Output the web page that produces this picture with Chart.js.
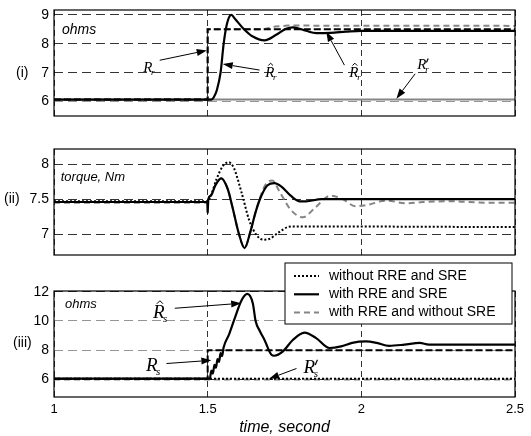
<!DOCTYPE html>
<html lang="en">
<head>
<meta charset="UTF-8">
<title>Rotor / stator resistance estimation</title>
<script src="https://cdn.jsdelivr.net/npm/chart.js"></script>
<style>
  body { margin: 0; background: #fff; }
  #wrap { position: relative; width: 531px; height: 436px; }
  canvas { position: absolute; left: 0; }
</style>
</head>
<body>
<div id="wrap">
  <canvas id="c1" width="531" height="128" style="top:0"></canvas>
  <canvas id="c2" width="531" height="130" style="top:128px"></canvas>
  <canvas id="c3" width="531" height="178" style="top:258px"></canvas>
</div>
<script>
  Chart.defaults.font.family = '"Liberation Sans", Arial, sans-serif';
  Chart.defaults.color = '#000';

  const xTicks = [1, 1.5, 2, 2.5];

  // (i) rotor resistance, ohms
  const rrTicks = [6, 7, 8, 9];
  const rrActT = [1, 1.5, 1.5, 2.5];
  const rrActV = [6.07, 6.07, 8.5, 8.5];
  const rrEstT = [1, 1.512, 1.52, 1.53, 1.542, 1.552, 1.563, 1.577, 1.59, 1.615, 1.647, 1.685, 1.723, 1.755, 1.777, 1.82, 1.853, 1.9, 1.95, 2.0, 2.5];
  const rrEstV = [6.07, 6.07, 6.15, 6.4, 7.0, 8.0, 8.7, 9.0, 8.85, 8.54, 8.25, 8.12, 8.31, 8.52, 8.57, 8.45, 8.37, 8.38, 8.42, 8.45, 8.45];
  const rrNoSreT = [1, 1.5, 1.5, 1.68, 1.72, 1.76, 2.5];
  const rrNoSreV = [6.07, 6.07, 8.5, 8.5, 8.6, 8.63, 8.62];
  const rrNomT = [1, 2.5];
  const rrNomV = [6.07, 6.07];

  // (ii) torque, Nm
  const tqTicks = [7, 7.5, 8];
  const tqNoneT = [1, 1.5, 1.51, 1.53, 1.55, 1.568, 1.585, 1.61, 1.635, 1.66, 1.68, 1.70, 1.73, 1.76, 1.78, 2.5];
  const tqNoneV = [7.47, 7.47, 7.55, 7.8, 7.98, 8.03, 7.95, 7.6, 7.2, 6.98, 6.92, 6.93, 7.02, 7.1, 7.11, 7.1];
  const tqBothT = [1, 1.499, 1.5, 1.502, 1.51, 1.525, 1.544, 1.565, 1.58, 1.6, 1.62, 1.64, 1.655, 1.67, 1.695, 1.717, 1.74, 1.77, 1.8, 1.82, 1.87, 2.5];
  const tqBothV = [7.46, 7.46, 7.3, 7.5, 7.55, 7.7, 7.8, 7.65, 7.4, 7.03, 6.8, 7.05, 7.3, 7.5, 7.7, 7.73, 7.68, 7.55, 7.47, 7.47, 7.5, 7.5];
  const tqNoSreT = [1, 1.499, 1.5, 1.502, 1.51, 1.525, 1.544, 1.565, 1.58, 1.6, 1.62, 1.64, 1.655, 1.67, 1.69, 1.71, 1.735, 1.77, 1.81, 1.85, 1.9, 1.94, 1.98, 2.02, 2.08, 2.15, 2.2, 2.3, 2.4, 2.5];
  const tqNoSreV = [7.45, 7.45, 7.3, 7.5, 7.55, 7.7, 7.8, 7.65, 7.4, 7.03, 6.8, 7.05, 7.3, 7.52, 7.72, 7.77, 7.6, 7.35, 7.24, 7.38, 7.55, 7.5, 7.4, 7.42, 7.48, 7.44, 7.46, 7.47, 7.45, 7.45];

  // (iii) stator resistance, ohms
  const rsTicks = [6, 8, 10, 12];
  const rsActT = [1, 1.5, 1.5, 2.5];
  const rsActV = [6.05, 6.05, 8, 8];
  const rsEstT = [1, 1.507, 1.512, 1.517, 1.522, 1.527, 1.532, 1.537, 1.542, 1.547, 1.552, 1.57, 1.59, 1.61, 1.629, 1.647, 1.656, 1.67, 1.685, 1.707, 1.717, 1.745, 1.777, 1.815, 1.853, 1.896, 1.934, 1.97, 2.015, 2.05, 2.09, 2.14, 2.19, 2.22, 2.5];
  const rsEstV = [6.05, 6.05, 6.6, 6.4, 7.0, 6.8, 7.4, 7.2, 7.8, 7.6, 8.2, 9.1, 10.3, 11.4, 11.85, 11.2, 10.0, 9.3, 8.7, 7.7, 7.62, 7.92, 8.7, 9.2, 8.83, 8.15, 8.26, 8.5, 8.6, 8.5, 8.3, 8.38, 8.5, 8.38, 8.38];
  const rsNomT = [1, 2.5];
  const rsNomV = [6.05, 6.05];
  const rsNoSreT = [1, 2.5];
  const rsNoSreV = [6.0, 6.0];

  const legendLabels = ['without RRE and SRE', 'with RRE and SRE', 'with RRE and without SRE'];

  // arrow call-outs: symbol anchor, arrow tail and head in data units
  const notes1 = [
    { sub: 'r', at: [1.29, 7.03], from: [1.344, 7.43], to: [1.497, 7.77] },
    { sub: 'r', hat: true, at: [1.687, 6.85], from: [1.669, 7.09], to: [1.549, 7.30] },
    { sub: 'r', hat: true, at: [1.961, 6.85], from: [1.945, 7.26], to: [1.886, 8.42] },
    { sub: 'r', prime: true, at: [2.182, 7.12], from: [2.175, 6.96], to: [2.114, 6.10] }
  ];
  const notes3 = [
    { sub: 's', hat: true, at: [1.322, 10.19], from: [1.393, 10.87], to: [1.609, 11.21] },
    { sub: 's', at: [1.299, 6.56], from: [1.366, 7.09], to: [1.512, 7.31] },
    { sub: 's', prime: true, at: [1.812, 6.41], from: [1.789, 6.75], to: [1.70, 6.05] }
  ];

  const look = {
    none: { borderColor: '#000', borderWidth: 2, borderDash: [2, 2] },
    both: { borderColor: '#000', borderWidth: 2.2 },
    noSre: { borderColor: '#858585', borderWidth: 2, borderDash: [6, 4] },
    actual: { borderColor: '#000', borderWidth: 2, borderDash: [7, 3] },
    nominal: { borderColor: '#858585', borderWidth: 2 }
  };

  function pts(t, v) {
    return t.map((tt, i) => ({ x: tt, y: v[i] }));
  }

  function line(t, v, kind, order, smooth) {
    return Object.assign({
      data: pts(t, v),
      pointRadius: 0,
      fill: false,
      order: order,
      cubicInterpolationMode: smooth ? 'monotone' : 'default',
      tension: smooth ? 0.4 : 0
    }, look[kind]);
  }

  function arrow(ctx, x0, y0, x1, y1) {
    const a = Math.atan2(y1 - y0, x1 - x0), L = 10, W = 3.5;
    ctx.beginPath();
    ctx.moveTo(x0, y0);
    ctx.lineTo(x1 - L * Math.cos(a), y1 - L * Math.sin(a));
    ctx.lineWidth = 1;
    ctx.stroke();
    ctx.beginPath();
    ctx.moveTo(x1, y1);
    ctx.lineTo(x1 - L * Math.cos(a) + W * Math.sin(a), y1 - L * Math.sin(a) - W * Math.cos(a));
    ctx.lineTo(x1 - L * Math.cos(a) - W * Math.sin(a), y1 - L * Math.sin(a) + W * Math.cos(a));
    ctx.closePath();
    ctx.fill();
  }

  function symbol(ctx, n, x, y, size) {
    ctx.font = 'italic ' + size + 'px "Liberation Serif"';
    ctx.textAlign = 'left';
    ctx.textBaseline = 'alphabetic';
    ctx.fillText('R', x, y);
    const w = ctx.measureText('R').width;
    ctx.lineWidth = 1;
    if (n.hat) {
      const cx = x + w * 0.6, top = y - size * 0.92;
      ctx.beginPath();
      ctx.moveTo(cx - size * 0.16, top + size * 0.16);
      ctx.lineTo(cx, top);
      ctx.lineTo(cx + size * 0.16, top + size * 0.16);
      ctx.stroke();
    }
    if (n.prime) {
      ctx.beginPath();
      ctx.moveTo(x + w + size * 0.12, y - size * 0.72);
      ctx.lineTo(x + w, y - size * 0.45);
      ctx.lineWidth = 1.2;
      ctx.stroke();
    }
    ctx.font = 'italic ' + Math.round(size * 0.6) + 'px "Liberation Serif"';
    ctx.fillText(n.sub, x + w - size * 0.08, y + size * 0.2);
  }

  function extras(cfg) {
    return {
      id: 'extras',
      afterDraw(chart) {
        const { ctx, chartArea: a, scales: { x, y } } = chart;
        ctx.save();
        ctx.setLineDash([]);
        ctx.strokeStyle = '#000';
        ctx.fillStyle = '#000';
        ctx.lineWidth = 1.2;
        ctx.strokeRect(a.left, a.top, a.right - a.left, a.bottom - a.top);

        ctx.font = '14px "Liberation Sans"';
        ctx.textBaseline = 'middle';
        ctx.textAlign = 'left';
        ctx.fillText(cfg.tag, cfg.tagX, y.getPixelForValue(cfg.tagAt));

        ctx.font = 'italic ' + cfg.unitSize + 'px "Liberation Sans"';
        ctx.fillText(cfg.unit, x.getPixelForValue(cfg.unitAt[0]), y.getPixelForValue(cfg.unitAt[1]));

        (cfg.notes || []).forEach(n => {
          arrow(ctx, x.getPixelForValue(n.from[0]), y.getPixelForValue(n.from[1]),
            x.getPixelForValue(n.to[0]), y.getPixelForValue(n.to[1]));
          symbol(ctx, n, x.getPixelForValue(n.at[0]), y.getPixelForValue(n.at[1]), cfg.symSize);
        });

        if (cfg.legend) {
          const bx = a.left + 231, by = a.top - 28, bw = 227, bh = 61;
          ctx.fillStyle = '#fff';
          ctx.fillRect(bx, by, bw, bh);
          ctx.strokeStyle = '#000';
          ctx.lineWidth = 1;
          ctx.strokeRect(bx, by, bw, bh);
          ['none', 'both', 'noSre'].forEach((k, i) => {
            const ly = by + 13 + i * 18.3;
            ctx.beginPath();
            ctx.strokeStyle = look[k].borderColor;
            ctx.lineWidth = look[k].borderWidth;
            ctx.setLineDash(look[k].borderDash || []);
            ctx.moveTo(bx + 9, ly);
            ctx.lineTo(bx + 34, ly);
            ctx.stroke();
            ctx.setLineDash([]);
            ctx.fillStyle = '#000';
            ctx.font = '14px "Liberation Sans"';
            ctx.textBaseline = 'middle';
            ctx.fillText(legendLabels[i], bx + 44, ly);
          });
        }
        ctx.restore();
      }
    };
  }

  function panel(id, datasets, yMin, yMax, yTicks, grayTicks, pad, showX, plug) {
    return new Chart(document.getElementById(id), {
      type: 'line',
      data: { datasets: datasets },
      options: {
        responsive: false,
        animation: false,
        layout: { padding: pad },
        plugins: { legend: { display: false }, tooltip: { enabled: false } },
        scales: {
          x: {
            type: 'linear', min: 1, max: 2.5,
            afterBuildTicks: s => { s.ticks = xTicks.map(v => ({ value: v })); },
            afterFit: s => { s.height = showX ? 39 : 0; s.paddingLeft = 0; s.paddingRight = 0; },
            ticks: { display: showX, color: '#000', font: { size: 13 }, padding: 5, maxRotation: 0, callback: v => String(v) },
            grid: { color: '#000', lineWidth: 0.8, drawTicks: false },
            border: { display: false, dash: [6, 4] },
            title: {
              display: showX, text: 'time, second', color: '#000', padding: 0,
              font: { size: 16, style: 'italic', lineHeight: 1 }
            }
          },
          y: {
            min: yMin, max: yMax,
            afterBuildTicks: s => { s.ticks = yTicks.map(v => ({ value: v })); },
            afterFit: s => { s.width = 54; s.paddingTop = 0; s.paddingBottom = 0; },
            ticks: { color: '#000', font: { size: 14 }, padding: 5, callback: v => String(v) },
            grid: {
              color: c => (c.tick && grayTicks.includes(c.tick.value) ? '#7a7a7a' : '#000'),
              lineWidth: 0.8, drawTicks: false
            },
            border: { display: false, dash: [9, 5] }
          }
        }
      },
      plugins: [plug]
    });
  }

  panel('c1', [
    line(rrEstT, rrEstV, 'both', 1, true),
    line(rrActT, rrActV, 'actual', 2, false),
    line(rrNoSreT, rrNoSreV, 'noSre', 3, false),
    line(rrNomT, rrNomV, 'nominal', 4, false)
  ], 5.5, 9.17, rrTicks, [6], { left: 0, right: 16, top: 10, bottom: 12 }, false,
  extras({ tag: '(i)', tagX: 16, tagAt: 7, unit: 'ohms', unitSize: 14, unitAt: [1.026, 8.47], notes: notes1, symSize: 15 }));

  panel('c2', [
    line(tqBothT, tqBothV, 'both', 1, true),
    line(tqNoSreT, tqNoSreV, 'noSre', 2, true),
    line(tqNoneT, tqNoneV, 'none', 3, true)
  ], 6.7, 8.22, tqTicks, [], { left: 0, right: 16, top: 21, bottom: 3 }, false,
  extras({ tag: '(ii)', tagX: 4, tagAt: 7.5, unit: 'torque, Nm', unitSize: 13, unitAt: [1.022, 7.82] }));

  panel('c3', [
    line(rsEstT, rsEstV, 'both', 1, true),
    line(rsActT, rsActV, 'actual', 2, false),
    line(rsNomT, rsNomV, 'none', 3, false),
    line(rsNoSreT, rsNoSreV, 'noSre', 4, false)
  ], 4.8, 12.05, rsTicks, [8, 10], { left: 0, right: 16, top: 33, bottom: 0 }, true,
  extras({ tag: '(iii)', tagX: 13, tagAt: 8.5, unit: 'ohms', unitSize: 13, unitAt: [1.036, 11.1], notes: notes3, symSize: 19, legend: true }));
</script>
</body>
</html>
